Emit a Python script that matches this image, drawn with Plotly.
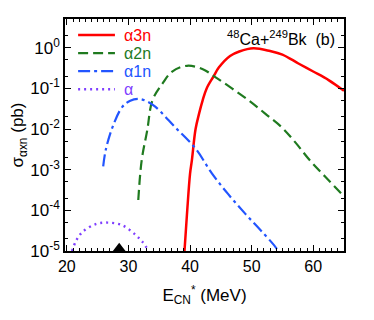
import plotly.graph_objects as go

# alpha-3n channel
e_a3n = [39.1, 39.5, 40.0, 40.3, 40.9, 41.5, 42.05, 42.7, 43.8, 44.7, 46.5,
         48.0, 50.3, 53.0, 55.0, 57.6, 60.0, 62.5, 65.0]
s_a3n = [1e-5, 7.9e-5, 7.9e-4, 1.7e-3, 1.0e-2, 2.5e-2, 5.1e-2, 0.1, 0.195,
         0.33, 0.63, 0.81, 0.97, 0.83, 0.68, 0.41, 0.26, 0.16, 0.087]

# alpha-2n channel
e_a2n = [31.6, 32.15, 33.05, 33.9, 35.5, 37.1, 39.5, 42.0, 44.1, 46.8, 49.5,
         52.2, 54.9, 57.2, 59.45, 62.0, 64.55, 65.0]
s_a2n = [1.8e-4, 1.7e-3, 9.3e-3, 5.1e-2, 0.13, 0.26, 0.36, 0.30, 0.19, 0.10,
         0.051, 0.024, 0.011, 4.5e-3, 1.7e-3, 6.6e-4, 2.6e-4, 2.2e-4]

# alpha-1n channel
e_a1n = [25.9, 26.3, 27.4, 29.0, 30.3, 31.7, 33.0, 34.4, 37.6, 40.9, 43.55,
         46.2, 48.95, 51.5, 54.05, 54.2]
s_a1n = [1.2e-3, 3.0e-3, 1.1e-2, 3.5e-2, 5.0e-2, 5.5e-2, 4.8e-2, 3.5e-2,
         1.1e-2, 3.3e-3, 8.1e-4, 2.5e-4, 8.3e-5, 3.2e-5, 1.15e-5, 1.0e-5]

# pure alpha channel
e_a = [20.85, 21.5, 22.55, 24.7, 26.6, 29.0, 31.2, 32.3, 33.2]
s_a = [1.0e-5, 1.78e-5, 2.95e-5, 4.6e-5, 5.0e-5, 4.3e-5, 2.45e-5, 1.66e-5,
       1.05e-5]

# experimental energy marker (sits on the bottom axis)
e_mark = [28.5]
s_mark = [1.17e-5]

y_tickvals = [1e-5, 1e-4, 1e-3, 1e-2, 1e-1, 1]
y_ticktext = ["10<sup>-5</sup>", "10<sup>-4</sup>", "10<sup>-3</sup>",
              "10<sup>-2</sup>", "10<sup>-1</sup>", "10<sup>0</sup>"]

series = [
    ("α3n", e_a3n, s_a3n, "#ff0000", 2.5, "solid"),
    ("α2n", e_a2n, s_a2n, "#1f7a1f", 2.2, "10px,5px"),
    ("α1n", e_a1n, s_a1n, "#2255ff", 2.2, "12px,4px,3px,4px"),
    ("α", e_a, s_a, "#7f3fff", 2.4, "2px,4px"),
]

fig = go.Figure()
for i, (name, ex, sy, col, lw, dash) in enumerate(series):
    fig.add_trace(go.Scatter(x=ex, y=sy, mode="lines", line_shape="spline",
                             name=name, showlegend=False,
                             line=dict(color=col, width=lw, dash=dash)))
    # hand-made legend (tighter row spacing than plotly's own legend)
    ly = 0.931 - i * 0.078
    fig.add_shape(type="line", xref="paper", yref="paper",
                  x0=0.047, x1=0.179, y0=ly, y1=ly,
                  line=dict(color=col, width=lw, dash=dash))
    fig.add_annotation(text=name, xref="paper", yref="paper",
                       x=0.205, y=ly, xanchor="left", yanchor="middle",
                       showarrow=False, font=dict(size=16, color=col))

fig.add_trace(go.Scatter(x=e_mark, y=s_mark, mode="markers", showlegend=False,
                         cliponaxis=False,
                         marker=dict(symbol="triangle-up", size=11,
                                     color="black")))

fig.add_annotation(text="<sup>48</sup>Ca+<sup>249</sup>Bk  (b)",
                   xref="paper", yref="paper", x=0.975, y=0.97,
                   xanchor="right", yanchor="top", showarrow=False,
                   font=dict(size=16, color="black"))

axis_common = dict(showline=True, linecolor="black", linewidth=1.5,
                   mirror="ticks", ticks="inside", ticklen=6,
                   tickcolor="black", showgrid=False, zeroline=False,
                   automargin=False)

fig.update_xaxes(range=[19.7, 65], tickvals=[20, 30, 40, 50, 60],
                 minor=dict(ticks="inside", ticklen=3, dtick=1,
                            tickcolor="black"),
                 title=dict(text="E<sub>CN</sub><sup>*</sup> (MeV)",
                            font=dict(size=17)),
                 tickfont=dict(size=16), **axis_common)
fig.update_yaxes(type="log", range=[-5, 0.707], tickvals=y_tickvals,
                 ticktext=y_ticktext,
                 minor=dict(ticks="inside", ticklen=3, tickcolor="black"),
                 title=dict(text="σ<sub>αxn</sub> (pb)",
                            font=dict(size=17)),
                 tickfont=dict(size=17), **axis_common)

# the page body adds an 8px offset, so the figure is drawn 8px smaller
fig.update_layout(width=366, height=312,
                  margin=dict(l=57, r=30, t=11, b=69),
                  paper_bgcolor="white", plot_bgcolor="white",
                  font=dict(family="Liberation Sans, Arial", color="black"))

fig.write_html("out.html")
